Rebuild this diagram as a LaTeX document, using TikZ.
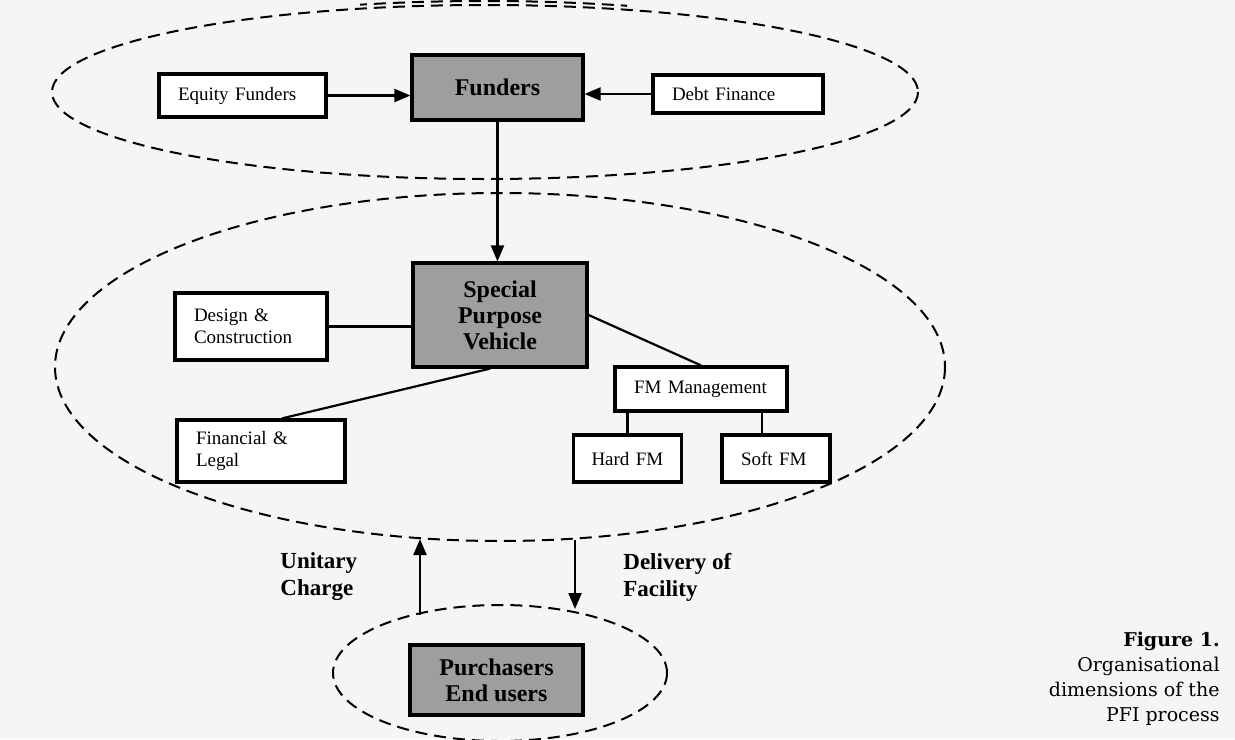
\documentclass[tikz,border=0pt]{standalone}
\usepackage{fontspec}
\setmainfont{Liberation Serif}
\newfontfamily\capfont{DejaVu Serif}
\usetikzlibrary{arrows.meta}
\usetikzlibrary{calc}

\begin{document}
\begin{tikzpicture}[x=0.5pt, y=-0.5pt]
    \tikzset{
        sidebox/.style={draw, line width=1.6pt, fill=white, align=left, inner xsep=9.5pt, inner ysep=0pt, font=\fontsize{9.5}{11}\selectfont},
        mainbox/.style={draw, line width=1.6pt, fill=black!38, align=center, inner sep=0pt, font=\fontsize{12}{13}\selectfont\bfseries},
        region/.style={line width=1pt, dash pattern=on 6pt off 3.5pt},
        link/.style={line width=1.1pt},
        flow/.style={line width=1.1pt, -{Triangle[length=8pt, width=6.5pt]}},
        flowtext/.style={align=left, anchor=west, inner sep=0pt, font=\fontsize{11.5}{13.5}\selectfont\bfseries}
    }
    \fill [black!4] (0,0) rectangle (1235,739);
    \useasboundingbox (0,0) rectangle (1235,739);

    % dashed regions
    \draw [region] (485,92) ellipse [x radius=433, y radius=87];
    \begin{scope}
        \clip (360,-10) rectangle (627,20);
        \draw [region] (485,88) ellipse [x radius=433, y radius=87];
    \end{scope}
    \draw [region] (500,367) ellipse [x radius=445, y radius=174];
    \draw [region] (500,673) ellipse [x radius=167, y radius=68];

    % funders
    \node [sidebox, text width=64.5pt, minimum height=21.5pt] (equity) at (242.5,95.5) {Equity Funders};
    \node [mainbox, minimum width=85.5pt, minimum height=32.5pt] (funders) at (497.5,87.5) {Funders};
    \node [sidebox, text width=66pt, minimum height=19pt] (debt) at (738,94) {Debt Finance};

    % special purpose vehicle
    \node [mainbox, minimum width=87pt, minimum height=52pt] (spv) at (500,315) {Special\\Purpose\\Vehicle};
    \node [sidebox, text width=57pt, minimum height=33.5pt] (design) at (251,326.5) {Design \&\\Construction};
    \node [sidebox, text width=65pt, minimum height=31pt] (finance) at (261,451) {Financial \&\\Legal};
    \node [sidebox, text width=67pt, minimum height=22pt] (fmm) at (701,389) {FM Management};
    \node [sidebox, text width=36pt, minimum height=23.5pt, inner xsep=9pt] (hardfm) at (627.5,458.5) {Hard~FM};
    \node [sidebox, text width=35pt, minimum height=23.5pt] (softfm) at (776,458.5) {Soft FM};

    % users
    \node [mainbox, minimum width=86.5pt, minimum height=35pt] (users) at (496.5,680) {Purchasers\\End users};

    \draw [flow] (equity.east) -- (equity.east -| funders.west);
    \draw [flow] (debt.west) -- (debt.west -| funders.east);
    \draw [flow] (funders.south) -- (funders.south |- spv.north);
    \draw [link] (design.east) -- (design.east -| spv.west);
    \draw [link] ([xshift=10.5pt]finance.north) -- ([xshift=-5pt]spv.south);
    \draw [link] (spv.east) -- (fmm.north);
    \draw [link] (hardfm.north) -- (hardfm.north |- fmm.south);
    \draw [link] ([xshift=-7pt]softfm.north) -- ([xshift=-7pt]softfm.north |- fmm.south);

    \coordinate (pay0) at (420,615);
    \coordinate (pay1) at (420,539);
    \coordinate (del0) at (575,540);
    \coordinate (del1) at (575,609);
    \draw [flow] (pay0) -- (pay1);
    \draw [flow] (del0) -- (del1);

    \node [flowtext] (charge) at (280,577) {Unitary\\Charge};
    \node [flowtext] (delivery) at (623,577) {Delivery of\\Facility};

    \node [align=right, anchor=north east, inner sep=0pt, font=\capfont\fontsize{9.5}{12.5}\selectfont] (caption) at (1220,632) {\textbf{Figure 1.}\\Organisational\\dimensions of the\\PFI process};
\end{tikzpicture}
\end{document}
